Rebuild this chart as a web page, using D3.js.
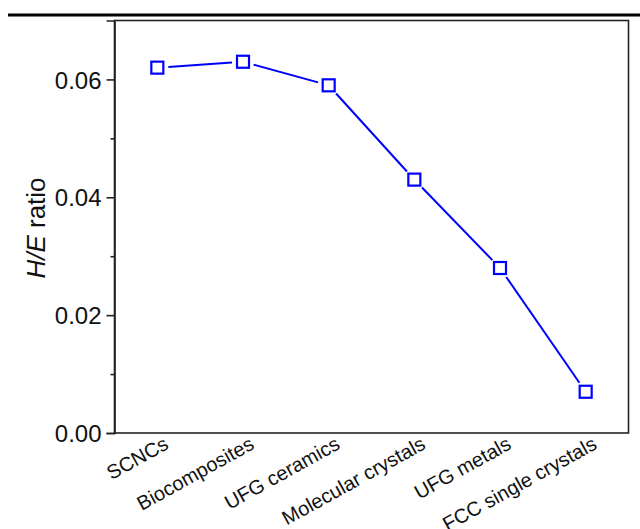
<!DOCTYPE html>
<html><head><meta charset="utf-8">
<script src="https://cdn.jsdelivr.net/npm/d3@7"></script>
<style>body{margin:0;background:#fff;} svg{display:block;} text{font-family:"Liberation Sans",Arial,sans-serif;}</style>
</head><body>
<svg id="c" width="640" height="529"></svg>
<script>
const categories = ["SCNCs","Biocomposites","UFG ceramics","Molecular crystals","UFG metals","FCC single crystals"];
const hOverE = [0.062, 0.063, 0.059, 0.043, 0.028, 0.007];
const yTicks = [0, 0.02, 0.04, 0.06];
const yMinorTicks = [0.01, 0.03, 0.05];

const svg = d3.select("#c");
const L = 114.5, R = 628.5, T = 20.5, B = 433;

// top rule
svg.append("line").attr("x1", 8).attr("x2", 640).attr("y1", 15).attr("y2", 15)
  .attr("stroke", "#000").attr("stroke-width", 3);

const x = d3.scalePoint().domain(categories).range([L, R]).padding(0.5);
const y = d3.scaleLinear().domain([0, 0.07]).range([B, T]);

// frame
svg.append("rect").attr("x", L).attr("y", T).attr("width", R - L).attr("height", B - T)
  .attr("fill", "none").attr("stroke", "#222").attr("stroke-width", 1.6);

// y axis major
const yAxis = svg.append("g").attr("transform", `translate(${L},0)`)
  .call(d3.axisLeft(y).tickValues(yTicks).tickFormat(d3.format(".2f")).tickSize(8).tickPadding(5));
yAxis.select(".domain").attr("stroke", "#222").attr("stroke-width", 1.6);
yAxis.selectAll(".tick line").attr("stroke", "#222").attr("stroke-width", 1.6);
yAxis.selectAll(".tick text").attr("font-size", 24).attr("fill", "#111").attr("dy", "0.36em")
  .style("font-family", '"Liberation Sans",Arial,sans-serif');
// y axis minor
const yMinor = svg.append("g").attr("transform", `translate(${L},0)`)
  .call(d3.axisLeft(y).tickValues(yMinorTicks).tickFormat("").tickSize(4));
yMinor.select(".domain").remove();
yMinor.selectAll(".tick line").attr("stroke", "#222").attr("stroke-width", 1.6);

// x axis labels (no ticks)
const xAxis = svg.append("g").attr("transform", `translate(0,${B})`)
  .call(d3.axisBottom(x).tickSize(0).tickPadding(0));
xAxis.select(".domain").remove();
xAxis.selectAll(".tick text")
  .attr("font-size", 20).attr("fill", "#111")
  .style("font-family", '"Liberation Sans",Arial,sans-serif')
  .attr("text-anchor", "end").attr("dy", 0).attr("y", 0)
  .attr("transform", "translate(12,15) rotate(-29)");

// y label
const yl = svg.append("text").attr("transform", "translate(45,228) rotate(-90)")
  .attr("text-anchor", "middle").attr("font-size", 26).attr("fill", "#111");
yl.append("tspan").attr("font-style", "italic").text("H/E");
yl.append("tspan").text(" ratio");

// line segments with gaps around markers
const pts = categories.map((c, i) => [x(c), y(hOverE[i])]);
const gap = 11;
const segs = d3.pairs(pts).map(([a, b]) => {
  const dx = b[0] - a[0], dy = b[1] - a[1], len = Math.hypot(dx, dy);
  const ux = dx / len, uy = dy / len;
  return [[a[0] + ux * gap, a[1] + uy * gap], [b[0] - ux * gap, b[1] - uy * gap]];
});
svg.append("g").selectAll("line").data(segs).join("line")
  .attr("x1", d => d[0][0]).attr("y1", d => d[0][1])
  .attr("x2", d => d[1][0]).attr("y2", d => d[1][1])
  .attr("stroke", "#0000ff").attr("stroke-width", 2);

// markers
const s = 12;
svg.append("g").selectAll("rect").data(pts).join("rect")
  .attr("x", d => d[0] - s / 2).attr("y", d => d[1] - s / 2)
  .attr("width", s).attr("height", s)
  .attr("fill", "none").attr("stroke", "#0000ff").attr("stroke-width", 2.2);
</script>
</body></html>
